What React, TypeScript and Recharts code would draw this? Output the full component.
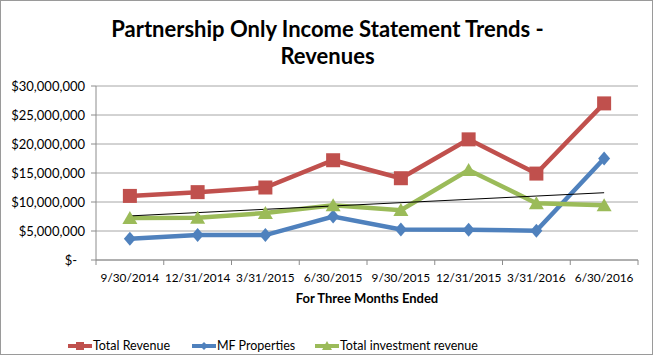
import { CartesianGrid, Line, LineChart, XAxis, YAxis } from 'recharts';

const quarters = [
  '9/30/2014',
  '12/31/2014',
  '3/31/2015',
  '6/30/2015',
  '9/30/2015',
  '12/31/2015',
  '3/31/2016',
  '6/30/2016',
];
const totalRevenue = [11050000, 11700000, 12500000, 17200000, 14100000, 20800000, 14900000, 27000000];
const mfProperties = [3650000, 4300000, 4300000, 7500000, 5250000, 5200000, 5050000, 17500000];
const investmentRevenue = [7250000, 7300000, 8100000, 9450000, 8600000, 15500000, 9800000, 9450000];
const investmentTrend = [7600000, null, null, null, null, null, null, 11600000];
const yTicks = [0, 5000000, 10000000, 15000000, 20000000, 25000000, 30000000];

const RED = '#C0504D';
const BLUE = '#4F81BD';
const GREEN = '#9BBB59';
const AXIS = '#8c8c8c';
const FONT = 'Lato, "Open Sans", sans-serif';

const W = 653;
const H = 355;
const MARGIN = { top: 86, right: 15, bottom: 50, left: 0 };
const Y_AXIS_W = 96;
const BAND = (W - MARGIN.left - MARGIN.right - Y_AXIS_W) / quarters.length;

const data = quarters.map((q, i) => ({
  q,
  total: totalRevenue[i],
  mf: mfProperties[i],
  inv: investmentRevenue[i],
  trend: investmentTrend[i],
}));

const fmtMoney = (v: number) => (v === 0 ? '$-' : '$' + v.toLocaleString('en-US'));

function YTick(props: any) {
  const { x, y, payload } = props;
  const v = payload.value as number;
  return (
    <text x={v === 0 ? x - 8 : x} y={y} dy={5} textAnchor="end" fontSize={13} fill="#000" fontFamily={FONT}>
      {fmtMoney(v)}
    </text>
  );
}

function XTick(props: any) {
  const { x, y, payload, index } = props;
  const axisY = y - 12;
  return (
    <g>
      <line x1={x - BAND / 2} x2={x - BAND / 2} y1={axisY} y2={axisY + 5} stroke={AXIS} />
      {index === quarters.length - 1 ? (
        <line x1={x + BAND / 2} x2={x + BAND / 2} y1={axisY} y2={axisY + 5} stroke={AXIS} />
      ) : null}
      <text x={x} y={y} dy={10} textAnchor="middle" fontSize={11.8} fill="#000" fontFamily={FONT}>
        {payload.value}
      </text>
    </g>
  );
}

const square = (p: any) => (
  <rect key={p.index} x={p.cx - 7} y={p.cy - 7} width={14} height={14} fill={RED} />
);
const diamond = (p: any) => (
  <polygon
    key={p.index}
    points={`${p.cx},${p.cy - 7} ${p.cx + 6},${p.cy} ${p.cx},${p.cy + 7} ${p.cx - 6},${p.cy}`}
    fill={BLUE}
  />
);
const triangle = (p: any) => (
  <polygon
    key={p.index}
    points={`${p.cx},${p.cy - 7} ${p.cx + 7.5},${p.cy + 6} ${p.cx - 7.5},${p.cy + 6}`}
    fill={GREEN}
  />
);

function LegendItem({ color, label, marker }: { color: string; label: string; marker: string }) {
  return (
    <span style={{ display: 'inline-flex', alignItems: 'center' }}>
      <svg width={24} height={12} style={{ marginRight: 1 }}>
        <line x1={0} x2={24} y1={6} y2={6} stroke={color} strokeWidth={4} />
        {marker === 'square' ? <rect x={8} y={2} width={8} height={8} fill={color} /> : null}
        {marker === 'diamond' ? <polygon points="12,2 16,6 12,10 8,6" fill={color} /> : null}
        {marker === 'triangle' ? <polygon points="12,1 17,10 7,10" fill={color} /> : null}
      </svg>
      {label}
    </span>
  );
}

export default function App() {
  return (
    <div
      style={{
        position: 'absolute',
        left: 0,
        top: 0,
        width: W,
        height: H,
        boxSizing: 'border-box',
        border: '1px solid #9a9a9a',
        background: '#fff',
        fontFamily: FONT,
      }}
    >
      <div
        style={{
          position: 'absolute',
          top: 14,
          left: 0,
          width: W,
          textAlign: 'center',
          fontWeight: 700,
          fontSize: 22,
          lineHeight: '27px',
          color: '#000',
        }}
      >
        Partnership Only Income Statement Trends -<br />
        Revenues
      </div>
      <div style={{ position: 'absolute', left: -1, top: -1 }}>
        <LineChart width={W} height={H} data={data} margin={MARGIN}>
          <CartesianGrid vertical={false} stroke="#a6a6a6" />
          <YAxis
            width={Y_AXIS_W}
            domain={[0, 30000000]}
            ticks={yTicks}
            interval={0}
            stroke={AXIS}
            tickSize={5}
            tickMargin={6}
            tick={<YTick />}
          />
          <XAxis
            dataKey="q"
            scale="band"
            interval={0}
            height={45}
            stroke={AXIS}
            tickLine={false}
            tickSize={5}
            tickMargin={7}
            tick={<XTick />}
            label={{
              value: 'For Three Months Ended',
              position: 'insideBottom',
              offset: 2,
              fontSize: 13,
              fontWeight: 700,
              fill: '#000',
              fontFamily: FONT,
            }}
          />
          <Line
            dataKey="total"
            stroke={RED}
            strokeWidth={4.5}
            dot={square}
            activeDot={false}
            isAnimationActive={false}
          />
          <Line
            dataKey="mf"
            stroke={BLUE}
            strokeWidth={4.5}
            dot={diamond}
            activeDot={false}
            isAnimationActive={false}
          />
          <Line
            dataKey="inv"
            stroke={GREEN}
            strokeWidth={4.5}
            dot={triangle}
            activeDot={false}
            isAnimationActive={false}
          />
          <Line
            dataKey="trend"
            stroke="#000"
            strokeWidth={1}
            dot={false}
            connectNulls
            activeDot={false}
            isAnimationActive={false}
          />
        </LineChart>
      </div>
      <div
        style={{
          position: 'absolute',
          top: 337,
          left: 67,
          fontSize: 12.5,
          color: '#000',
          display: 'flex',
          whiteSpace: 'nowrap',
        }}
      >
        <span style={{ width: 124 }}>
          <LegendItem color={RED} label="Total Revenue" marker="square" />
        </span>
        <span style={{ width: 123 }}>
          <LegendItem color={BLUE} label="MF Properties" marker="diamond" />
        </span>
        <span>
          <LegendItem color={GREEN} label="Total investment revenue" marker="triangle" />
        </span>
      </div>
    </div>
  );
}
